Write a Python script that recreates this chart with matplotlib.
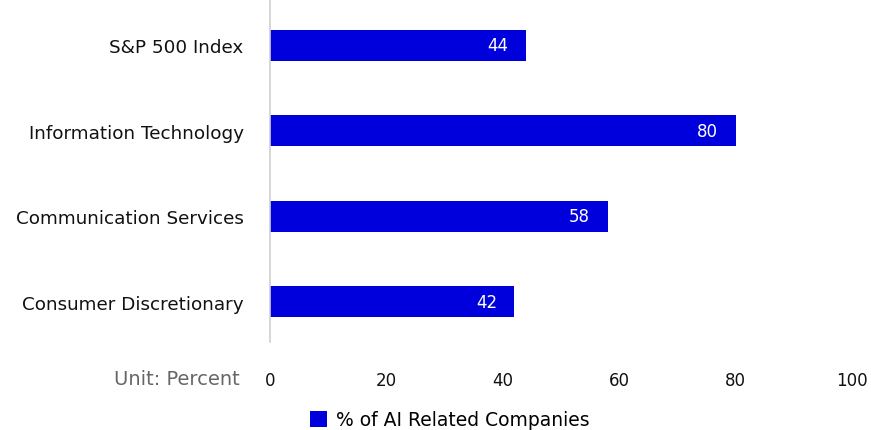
import matplotlib
matplotlib.use("Agg")
import matplotlib.pyplot as plt
import numpy as np

categories = ["S&P 500 Index", "Information Technology",
              "Communication Services", "Consumer Discretionary"]
values = [44, 80, 58, 42]
xticks = [0, 20, 40, 60, 80, 100]
series_label = "% of AI Related Companies"

BLUE = "#0000DD"
plt.rcParams["font.family"] = ["DejaVu Sans"]

fig = plt.figure(figsize=(8.71, 4.31), dpi=100)
ax = fig.add_axes([270 / 871, 1 - 343 / 431, (852 - 270) / 871, 343 / 431])

y = np.arange(len(categories))
bars = ax.barh(y, values, height=0.36, color=BLUE, label=series_label)
for b, v in zip(bars, values):
    ax.text(b.get_width() - 3.0, b.get_y() + b.get_height() / 2, f"{v}",
            ha="right", va="center", color="white", fontsize=12)

ax.set_xlim(0, 100)
ax.set_ylim(3.47, -0.54)
ax.set_yticks(y)
ax.set_yticklabels(categories, fontsize=13.2, color="#111111")
ax.set_xticks(xticks)
ax.set_xticklabels([str(t) for t in xticks], fontsize=12, color="#111111")
ax.tick_params(axis="y", length=0, pad=19)
ax.tick_params(axis="x", length=0, pad=21)
for s in ["top", "right", "bottom"]:
    ax.spines[s].set_visible(False)
ax.spines["left"].set_color("#d0d0d0")
ax.spines["left"].set_linewidth(1.2)

fig.text(240 / 871, 1 - 380 / 431, "Unit: Percent", ha="right", va="center",
         fontsize=14, color="#666666")

fig.legend(loc="center", bbox_to_anchor=(450 / 871, 1 - 421 / 431), frameon=False,
           fontsize=13.5, handlelength=0.9, handleheight=0.9, handletextpad=0.5)

fig.savefig("out.png", dpi=100)
